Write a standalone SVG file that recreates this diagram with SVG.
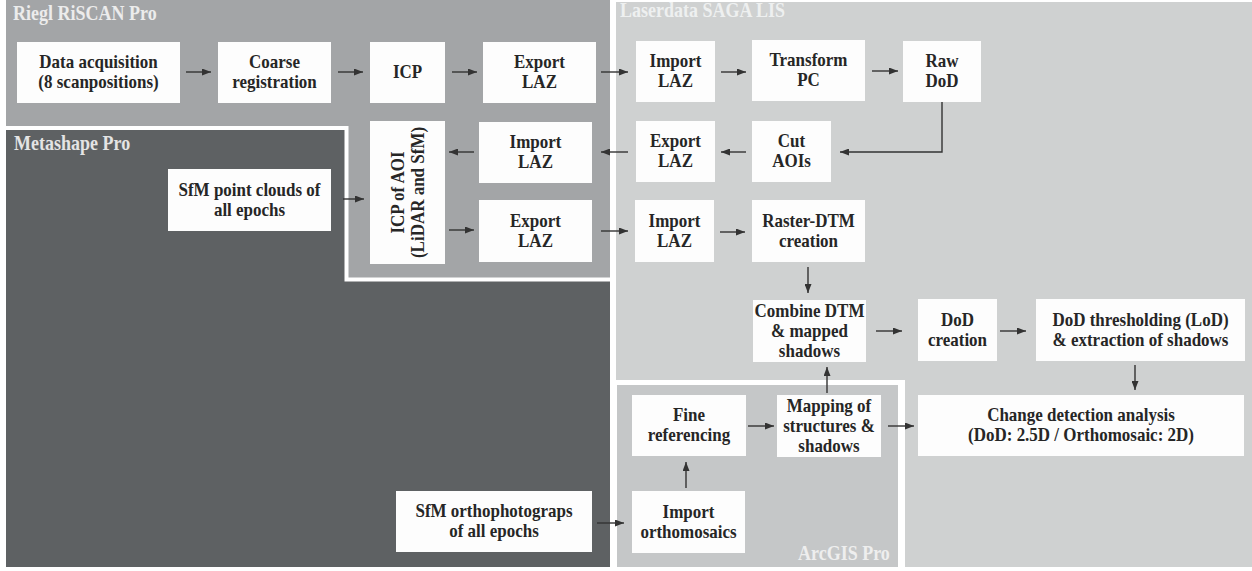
<svg xmlns="http://www.w3.org/2000/svg" width="1252" height="571" viewBox="0 0 1252 571">
<style>
.node rect{fill:#fdfdfd;}
.node text{font-family:"Liberation Serif","Times New Roman",serif;font-weight:bold;font-size:17px;fill:#262626;text-anchor:middle;}
.plabel{font-family:"Liberation Serif","Times New Roman",serif;font-weight:bold;font-size:18px;}
#connectors line,#connectors path{stroke:#333;stroke-width:1.4;fill:none;marker-end:url(#ah);}
</style>
<defs>
<marker id="ah" markerUnits="userSpaceOnUse" markerWidth="9" markerHeight="7" refX="9" refY="3.5" orient="auto">
<path d="M0,0 L9,3.5 L0,7 z" fill="#333"/>
</marker>
</defs>
<rect width="1252" height="571" fill="#ffffff"/>
<g id="panels">
<rect id="p-laserdata" x="616" y="2" width="636" height="565" fill="#cfd1d1"/>
<rect id="p-riegl" x="6" y="0" width="604" height="282" fill="#a3a5a7"/>
<rect id="p-metashape" x="6" y="130" width="604" height="437" fill="#5e6163"/>
<rect x="348" y="129" width="262" height="150" fill="#a3a5a7"/>
<path d="M6,128 H346.5 V279.5 H610" stroke="#ffffff" stroke-width="4" fill="none"/>
<rect x="616" y="380" width="289" height="187" fill="#ffffff"/>
<rect id="p-arcgis" x="617" y="385" width="281" height="182" fill="#c5c7c8"/>
<text class="plabel" fill="#ececec" transform="translate(13,20) scale(1,1.12)">Riegl RiSCAN Pro</text>
<text class="plabel" fill="#e4e4e4" transform="translate(14,150) scale(1,1.12)">Metashape Pro</text>
<text class="plabel" fill="#eef0f0" transform="translate(620,17) scale(1,1.12)">Laserdata SAGA LIS</text>
<text class="plabel" fill="#eeeeee" transform="translate(798,560) scale(1,1.12)">ArcGIS Pro</text>
</g>
<g id="connectors">
<line x1="186" y1="72" x2="211" y2="72"/>
<line x1="338" y1="72" x2="363" y2="72"/>
<line x1="452" y1="72" x2="477" y2="72"/>
<line x1="601" y1="72" x2="628" y2="72"/>
<line x1="721" y1="72" x2="746" y2="72"/>
<line x1="872" y1="71" x2="898" y2="71"/>
<path d="M942,102 V152 H840"/>
<line x1="746" y1="152" x2="721" y2="152"/>
<line x1="628" y1="152" x2="601" y2="152"/>
<line x1="474" y1="152" x2="449" y2="152"/>
<line x1="449" y1="230" x2="474" y2="230"/>
<line x1="343" y1="199" x2="364" y2="199"/>
<line x1="601" y1="231" x2="628" y2="231"/>
<line x1="720" y1="232" x2="745" y2="232"/>
<line x1="808" y1="267" x2="808" y2="293"/>
<line x1="876" y1="331" x2="902" y2="331"/>
<line x1="1000" y1="331" x2="1026" y2="331"/>
<line x1="1135" y1="365" x2="1135" y2="390"/>
<line x1="827" y1="393" x2="827" y2="367"/>
<line x1="748" y1="426" x2="774" y2="426"/>
<line x1="888" y1="426" x2="914" y2="426"/>
<line x1="686" y1="488" x2="686" y2="462"/>
<line x1="597" y1="523" x2="624" y2="523"/>
</g>
<g id="n-data" class="node"><rect x="17" y="42" width="163" height="61"/><text transform="translate(98.5,68) scale(1,1.15)"><tspan x="0">Data acquisition</tspan><tspan x="0" dy="17.4">(8 scanpositions)</tspan></text></g>
<g id="n-coarse" class="node"><rect x="218" y="42" width="113" height="61"/><text transform="translate(274.5,68) scale(1,1.15)"><tspan x="0">Coarse</tspan><tspan x="0" dy="17.4">registration</tspan></text></g>
<g id="n-icp" class="node"><rect x="370" y="42" width="75" height="61"/><text transform="translate(407.5,77.5) scale(1,1.15)">ICP</text></g>
<g id="n-export1" class="node"><rect x="483" y="42" width="113" height="61"/><text transform="translate(539.5,68) scale(1,1.15)"><tspan x="0">Export</tspan><tspan x="0" dy="17.4">LAZ</tspan></text></g>
<g id="n-icpaoi" class="node"><rect x="370" y="121" width="75" height="143"/><text transform="translate(403.5,192.5) rotate(-90) scale(1,1.15)"><tspan x="0">ICP of AOI</tspan><tspan x="0" dy="17.4">(LiDAR and SfM)</tspan></text></g>
<g id="n-import2" class="node"><rect x="479" y="122" width="113" height="61"/><text transform="translate(535.5,148) scale(1,1.15)"><tspan x="0">Import</tspan><tspan x="0" dy="17.4">LAZ</tspan></text></g>
<g id="n-export2" class="node"><rect x="479" y="200" width="113" height="62"/><text transform="translate(535.5,226.5) scale(1,1.15)"><tspan x="0">Export</tspan><tspan x="0" dy="17.4">LAZ</tspan></text></g>
<g id="n-sfmpc" class="node"><rect x="168" y="169" width="163" height="62"/><text transform="translate(249.5,195.5) scale(1,1.15)"><tspan x="0">SfM point clouds of</tspan><tspan x="0" dy="17.4">all epochs</tspan></text></g>
<g id="n-import1" class="node"><rect x="636" y="41" width="79" height="61"/><text transform="translate(675.5,67) scale(1,1.15)"><tspan x="0">Import</tspan><tspan x="0" dy="17.4">LAZ</tspan></text></g>
<g id="n-transform" class="node"><rect x="752" y="40" width="113" height="61"/><text transform="translate(808.5,66) scale(1,1.15)"><tspan x="0">Transform</tspan><tspan x="0" dy="17.4">PC</tspan></text></g>
<g id="n-rawdod" class="node"><rect x="903" y="41" width="78" height="61"/><text transform="translate(942,67) scale(1,1.15)"><tspan x="0">Raw</tspan><tspan x="0" dy="17.4">DoD</tspan></text></g>
<g id="n-export3" class="node"><rect x="636" y="121" width="79" height="61"/><text transform="translate(675.5,147) scale(1,1.15)"><tspan x="0">Export</tspan><tspan x="0" dy="17.4">LAZ</tspan></text></g>
<g id="n-cut" class="node"><rect x="752" y="121" width="79" height="61"/><text transform="translate(791.5,147) scale(1,1.15)"><tspan x="0">Cut</tspan><tspan x="0" dy="17.4">AOIs</tspan></text></g>
<g id="n-import3" class="node"><rect x="635" y="200" width="79" height="62"/><text transform="translate(674.5,226.5) scale(1,1.15)"><tspan x="0">Import</tspan><tspan x="0" dy="17.4">LAZ</tspan></text></g>
<g id="n-raster" class="node"><rect x="752" y="200" width="113" height="62"/><text transform="translate(808.5,226.5) scale(1,1.15)"><tspan x="0">Raster-DTM</tspan><tspan x="0" dy="17.4">creation</tspan></text></g>
<g id="n-combine" class="node"><rect x="753" y="300" width="113" height="62"/><text transform="translate(809.5,316.5) scale(1,1.15)"><tspan x="0">Combine DTM</tspan><tspan x="0" dy="17.4">&amp; mapped</tspan><tspan x="0" dy="17.4">shadows</tspan></text></g>
<g id="n-dodcreation" class="node"><rect x="918" y="299" width="79" height="62"/><text transform="translate(957.5,325.5) scale(1,1.15)"><tspan x="0">DoD</tspan><tspan x="0" dy="17.4">creation</tspan></text></g>
<g id="n-dodthresh" class="node"><rect x="1036" y="299" width="209" height="62"/><text transform="translate(1140.5,325.5) scale(1,1.15)"><tspan x="0">DoD thresholding (LoD)</tspan><tspan x="0" dy="17.4">&amp; extraction of shadows</tspan></text></g>
<g id="n-change" class="node"><rect x="918" y="395" width="326" height="61"/><text transform="translate(1081,421) scale(1,1.15)"><tspan x="0">Change detection analysis</tspan><tspan x="0" dy="17.4">(DoD: 2.5D / Orthomosaic: 2D)</tspan></text></g>
<g id="n-fineref" class="node"><rect x="632" y="395" width="114" height="61"/><text transform="translate(689,421) scale(1,1.15)"><tspan x="0">Fine</tspan><tspan x="0" dy="17.4">referencing</tspan></text></g>
<g id="n-mapping" class="node"><rect x="777" y="395" width="104" height="62"/><text transform="translate(829,411.5) scale(1,1.15)"><tspan x="0">Mapping of</tspan><tspan x="0" dy="17.4">structures &amp;</tspan><tspan x="0" dy="17.4">shadows</tspan></text></g>
<g id="n-importortho" class="node"><rect x="632" y="491" width="113" height="62"/><text transform="translate(688.5,517.5) scale(1,1.15)"><tspan x="0">Import</tspan><tspan x="0" dy="17.4">orthomosaics</tspan></text></g>
<g id="n-sfmortho" class="node"><rect x="396" y="491" width="196" height="61"/><text transform="translate(494,517) scale(1,1.15)"><tspan x="0">SfM orthophotograps</tspan><tspan x="0" dy="17.4">of all epochs</tspan></text></g>
</svg>
